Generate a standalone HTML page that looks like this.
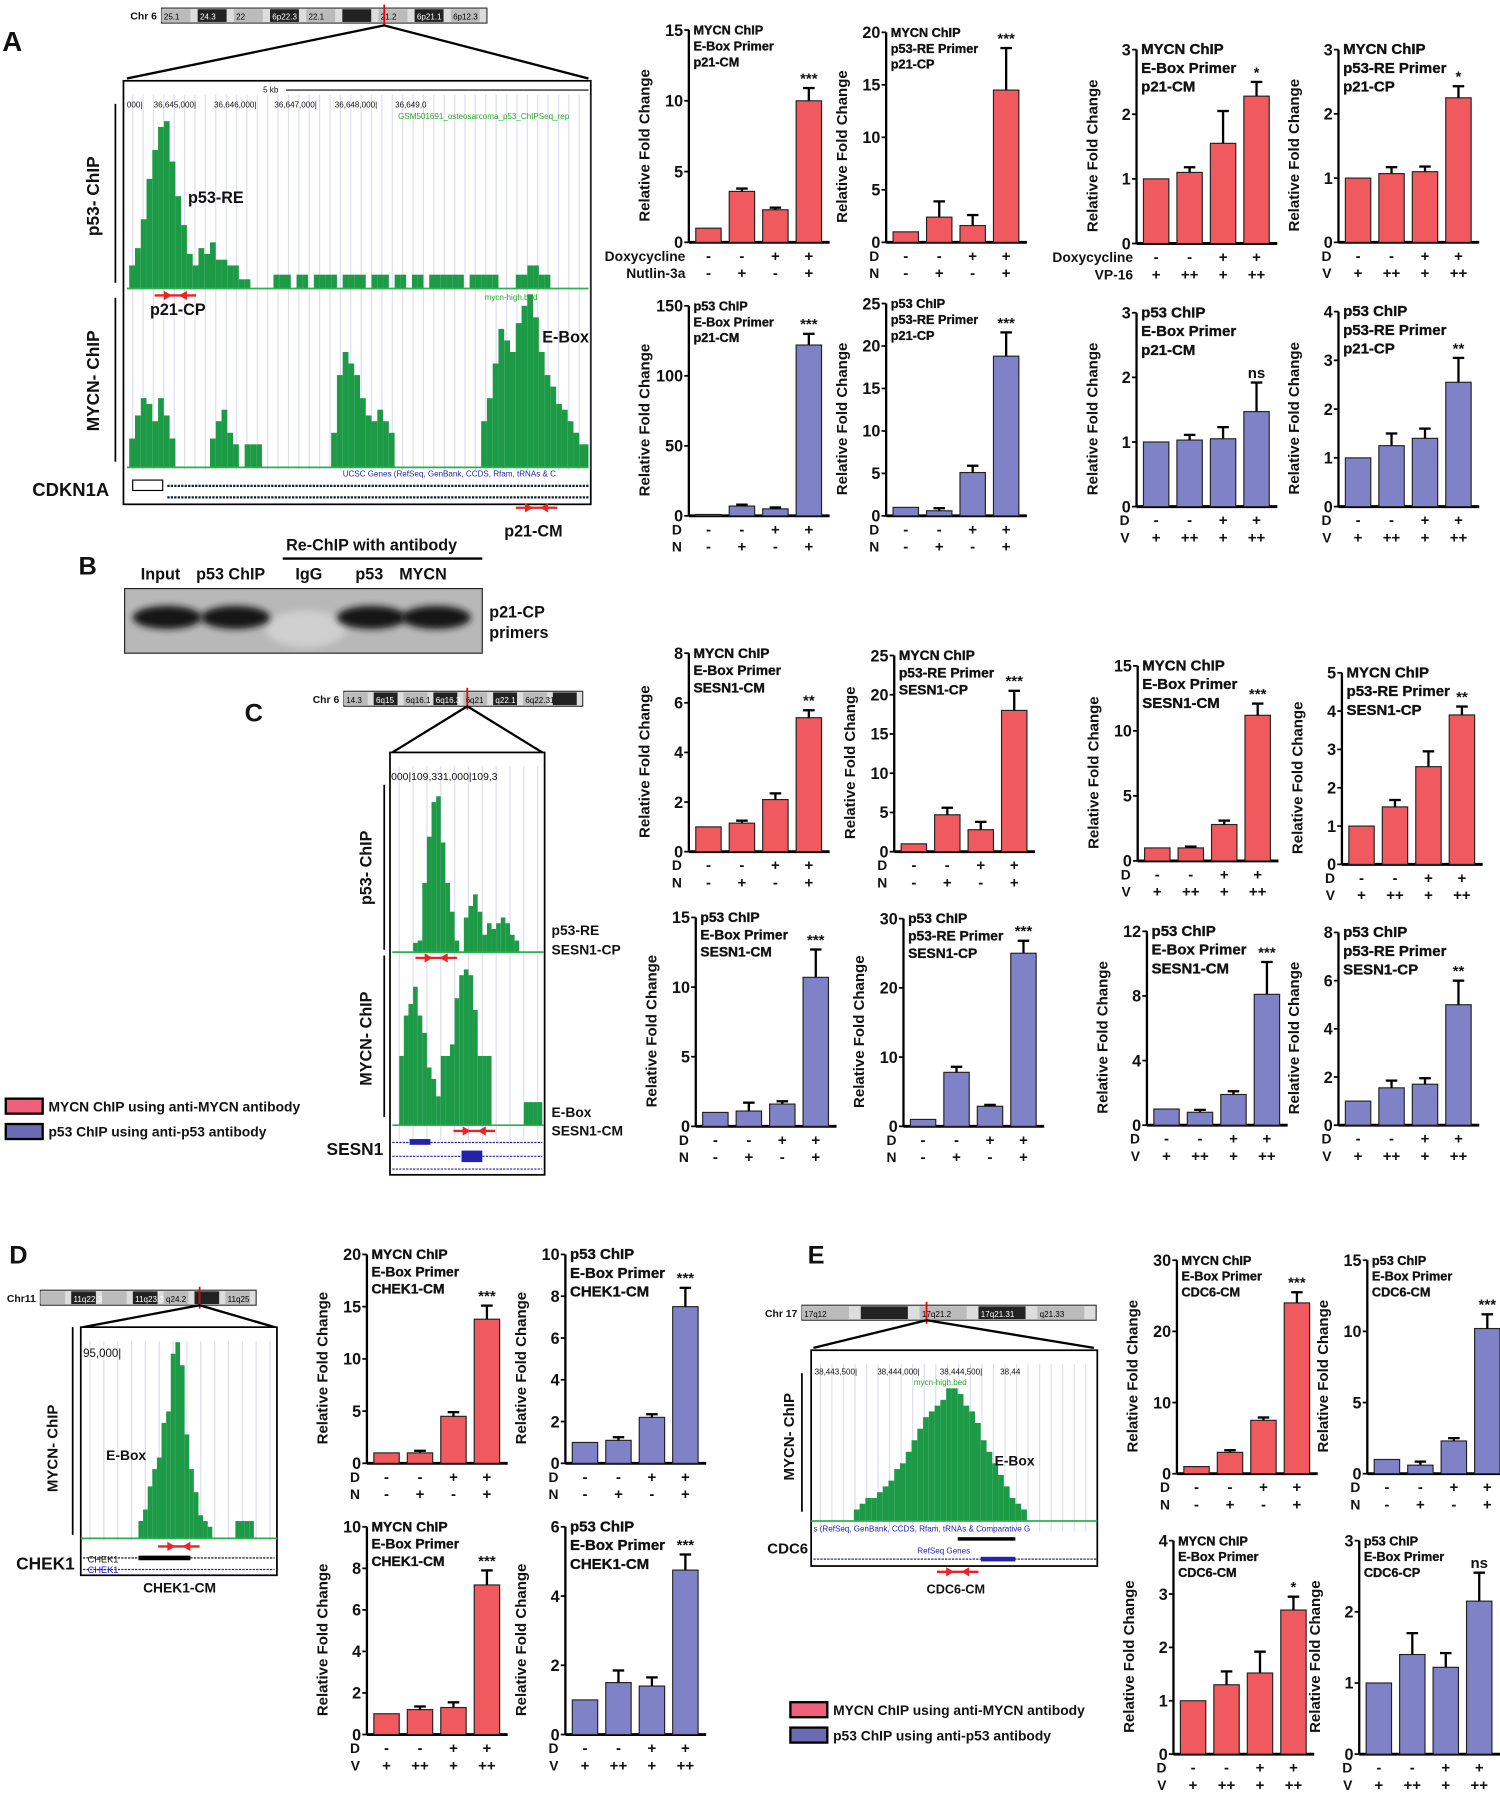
<!DOCTYPE html>
<html><head><meta charset="utf-8">
<style>
html,body{margin:0;padding:0;background:#fff;}
svg{display:block;font-family:"Liberation Sans",Arial,sans-serif;}
text{font-weight:bold;fill:#111;}
</style></head>
<body>
<svg id="fig" width="1500" height="1813" viewBox="0 0 1300 1571" preserveAspectRatio="none" xmlns="http://www.w3.org/2000/svg">
<defs><filter id="blur" x="-20%" y="-50%" width="140%" height="200%"><feGaussianBlur stdDeviation="3"/></filter></defs>
<g id="static">
  <text x="2" y="44" font-size="24">A</text>
  <text x="68" y="498" font-size="22">B</text>
  <text x="212" y="625" font-size="22">C</text>
  <text x="8" y="1095" font-size="22">D</text>
  <text x="700" y="1095" font-size="22">E</text>

  <g>
    <text x="122" y="502" font-size="14">Input</text>
    <text x="170" y="502" font-size="14">p53 ChIP</text>
    <text x="248" y="477" font-size="14">Re-ChIP with antibody</text>
    <line x1="245" y1="484" x2="418" y2="484" stroke="#000" stroke-width="2"/>
    <text x="256" y="502" font-size="14">IgG</text>
    <text x="308" y="502" font-size="14">p53</text>
    <text x="346" y="502" font-size="14">MYCN</text>
    <rect x="108" y="510" width="310" height="56" fill="#b8b8b8" stroke="#222" stroke-width="1"/>
    <ellipse cx="265" cy="545" rx="35" ry="16" fill="#cfcfcf" filter="url(#blur)"/>
    <ellipse cx="145" cy="535" rx="30" ry="10" fill="#151515" filter="url(#blur)"/>
    <ellipse cx="204" cy="535" rx="30" ry="10" fill="#151515" filter="url(#blur)"/>
    <ellipse cx="322" cy="535" rx="30" ry="10" fill="#151515" filter="url(#blur)"/>
    <ellipse cx="378" cy="535" rx="30" ry="10" fill="#151515" filter="url(#blur)"/>
    <text x="424" y="535" font-size="14">p21-CP</text>
    <text x="424" y="553" font-size="14">primers</text>
  </g>

  <g>
    <rect x="5" y="952" width="32" height="13" fill="#f0607a" stroke="#000" stroke-width="2"/>
    <text x="42" y="963" font-size="12">MYCN ChIP using anti-MYCN antibody</text>
    <rect x="5" y="974" width="32" height="13" fill="#6b6bb5" stroke="#000" stroke-width="2"/>
    <text x="42" y="985" font-size="12">p53 ChIP using anti-p53 antibody</text>
  </g>
  <g>
    <rect x="685" y="1475" width="32" height="13" fill="#f0607a" stroke="#000" stroke-width="2"/>
    <text x="722" y="1486" font-size="12">MYCN ChIP using anti-MYCN antibody</text>
    <rect x="685" y="1497" width="32" height="13" fill="#6b6bb5" stroke="#000" stroke-width="2"/>
    <text x="722" y="1508" font-size="12">p53 ChIP using anti-p53 antibody</text>
  </g>
</g>
<g id="browsers"></g>
<g id="charts"></g>
</svg>
<script>
const conditionCategories = ["1","2","3","4"];
const a1Values=[1,3.6,2.3,10], a1Errors=[0,0.2,0.15,0.9];
const a2Values=[1,2.4,1.6,14.5], a2Errors=[0,1.5,1,4];
const a3Values=[1,1.1,1.55,2.28], a3Errors=[0,0.08,0.5,0.22];
const a4Values=[1,1.07,1.1,2.25], a4Errors=[0,0.1,0.08,0.18];
const a5Values=[1,7,5,122], a5Errors=[0,1,1,8];
const a6Values=[1,0.6,5.1,18.8], a6Errors=[0,0.3,0.8,2.8];
const a7Values=[1,1.03,1.05,1.47], a7Errors=[0,0.08,0.18,0.45];
const a8Values=[1,1.25,1.4,2.55], a8Errors=[0,0.25,0.2,0.5];
const c1Values=[1,1.15,2.1,5.4], c1Errors=[0,0.1,0.25,0.3];
const c2Values=[1,4.7,2.8,18], c2Errors=[0,0.9,1,2.5];
const c3Values=[1,1,2.8,11.2], c3Errors=[0,0.1,0.3,0.9];
const c4Values=[1,1.5,2.55,3.9], c4Errors=[0,0.18,0.4,0.22];
const c5Values=[1,1.1,1.6,10.7], c5Errors=[0,0.6,0.2,2];
const c6Values=[1,7.8,2.9,25], c6Errors=[0,0.8,0.2,1.8];
const c7Values=[1,0.8,1.9,8.1], c7Errors=[0,0.15,0.2,2];
const c8Values=[1,1.55,1.7,5], c8Errors=[0,0.3,0.25,1];
const d1Values=[1,1,4.5,13.8], d1Errors=[0,0.2,0.4,1.3];
const d2Values=[1,1.1,2.2,7.5], d2Errors=[0,0.15,0.15,0.9];
const d3Values=[1,1.2,1.3,7.2], d3Errors=[0,0.15,0.25,0.7];
const d4Values=[1,1.5,1.4,4.75], d4Errors=[0,0.35,0.25,0.45];
const e1Values=[1,3,7.5,24], e1Errors=[0,0.3,0.4,1.5];
const e2Values=[1,0.6,2.3,10.2], e2Errors=[0,0.25,0.2,1];
const e3Values=[1,1.3,1.52,2.7], e3Errors=[0,0.25,0.4,0.25];
const e4Values=[1,1.4,1.22,2.15], e4Errors=[0,0.3,0.2,0.4];
const ticks15=["0","5","10","15"], ticks20=["0","5","10","15","20"], ticks25=["0","5","10","15","20","25"];
const ticks3=["0","1","2","3"], ticks4=["0","1","2","3","4"], ticks5=["0","1","2","3","4","5"];
const ticks150=["0","50","100","150"], ticks8=["0","2","4","6","8"], ticks30=["0","10","20","30"];
const ticks12=["0","4","8","12"], ticks10=["0","2","4","6","8","10"], ticks6=["0","2","4","6"];
const signsDN1=["-","-","+","+"], signsDN2=["-","+","-","+"], signsV=["+","++","+","++"];
const starLabels=["***","***","*","*","***","***","ns","**","**","***","***","**","***","***","***","**","***","***","***","***","***","***","*","ns"];

const RED="#f05a5e", BLUE="#7f82c6";
const NS="http://www.w3.org/2000/svg";
function el(tag,attrs,parent,txt){const e=document.createElementNS(NS,tag);for(const k in attrs)e.setAttribute(k,attrs[k]);if(txt!==undefined)e.textContent=txt;parent.appendChild(e);return e;}

const chartsG=document.getElementById('charts');
function drawChart(o){
  const g=el('g',{},chartsG);
  
  
  const maxV=parseFloat(o.ticks[o.ticks.length-1]);
  const y=v=>o.zero-(v/maxV)*(o.zero-o.top);
  const xc=i=>o.ax+17+i*29;
  const ya=el('line',{x1:o.ax,y1:o.top,x2:o.ax,y2:o.zero,stroke:'#000','stroke-width':2},g);
  
  
  const xa=el('line',{x1:o.ax,y1:o.zero,x2:o.ax+122,y2:o.zero,stroke:'#000','stroke-width':2.5},g);
  
  
  o.ticks.forEach(t=>{
    const ty=y(parseFloat(t));
    el('line',{x1:o.ax-4,y1:ty,x2:o.ax,y2:ty,stroke:'#000','stroke-width':1.5},g);
    const tl=el('text',{x:o.ax-5,y:ty+5,'font-size':14,'text-anchor':'end'},g,t);
    
    
  });
  const yt=el('text',{x:0,y:0,'font-size':13,'text-anchor':'middle',transform:`translate(${o.ax-34},${(o.top+o.zero)/2+8}) rotate(-90)`},g,'Relative Fold Change');
  
  
  o.vals.forEach((v,i)=>{
    const b=el('rect',{x:xc(i)-11,y:y(v),width:22,height:o.zero-y(v),fill:o.color,stroke:'#222','stroke-width':1},g);
    
    
    const e=o.errs[i];
    if(e>0){
      el('line',{x1:xc(i),y1:y(v),x2:xc(i),y2:y(v+e),stroke:'#000','stroke-width':2},g);
      el('line',{x1:xc(i)-5,y1:y(v+e),x2:xc(i)+5,y2:y(v+e),stroke:'#000','stroke-width':2},g);
    }
  });
  const i3=3;
  const st=el('text',{x:xc(i3),y:y(o.vals[i3]+o.errs[i3])-4,'font-size':13,'text-anchor':'middle'},g,o.star);
  
  
  o.title.forEach((t,k)=>{
    const tt=el('text',{x:o.ax+4,y:o.top+4+k*o.ts*1.25,'font-size':o.ts,stroke:'#111','stroke-width':0.3},g,t);
    
    
  });
  o.rows.forEach((r,k)=>{
    const ry=o.zero+16+k*15;
    const rl=el('text',{x:o.ax-(r.label.length>2?3:6),y:ry,'font-size':12,'text-anchor':'end'},g,r.label);
    
    
    r.signs.forEach((s,i)=>{el('text',{x:xc(i),y:ry,'font-size':13,'text-anchor':'middle'},g,s);});
  });
}
function rowsDN(long){return [{label:long?'Doxycycline':'D',signs:signsDN1},{label:long?'Nutlin-3a':'N',signs:signsDN2}];}
function rowsDV(long){return [{label:long?'Doxycycline':'D',signs:signsDN1},{label:long?'VP-16':'V',signs:signsV}];}

const specs=[
 {name:'chart-a-mycn-ebox-p21cm',ax:597,top:26,zero:210,ticks:ticks15,vals:a1Values,errs:a1Errors,color:RED,title:['MYCN ChIP','E-Box Primer','p21-CM'],ts:11,rows:rowsDN(true)},
 {name:'chart-a-mycn-p53re-p21cp',ax:768,top:28,zero:210,ticks:ticks20,vals:a2Values,errs:a2Errors,color:RED,title:['MYCN ChIP','p53-RE Primer','p21-CP'],ts:11,rows:rowsDN(false)},
 {name:'chart-a-mycn-ebox-vp16',ax:985,top:43,zero:211,ticks:ticks3,vals:a3Values,errs:a3Errors,color:RED,title:['MYCN ChIP','E-Box Primer','p21-CM'],ts:13,rows:rowsDV(true)},
 {name:'chart-a-mycn-p53re-vp16',ax:1160,top:43,zero:210,ticks:ticks3,vals:a4Values,errs:a4Errors,color:RED,title:['MYCN ChIP','p53-RE Primer','p21-CP'],ts:13,rows:rowsDV(false)},
 {name:'chart-a-p53-ebox-p21cm',ax:597,top:265,zero:447,ticks:ticks150,vals:a5Values,errs:a5Errors,color:BLUE,title:['p53 ChIP','E-Box Primer','p21-CM'],ts:11,rows:rowsDN(false)},
 {name:'chart-a-p53-p53re-p21cp',ax:768,top:263,zero:447,ticks:ticks25,vals:a6Values,errs:a6Errors,color:BLUE,title:['p53 ChIP','p53-RE Primer','p21-CP'],ts:11,rows:rowsDN(false)},
 {name:'chart-a-p53-ebox-vp16',ax:985,top:271,zero:439,ticks:ticks3,vals:a7Values,errs:a7Errors,color:BLUE,title:['p53 ChIP','E-Box Primer','p21-CM'],ts:13,rows:rowsDV(false)},
 {name:'chart-a-p53-p53re-vp16',ax:1160,top:270,zero:439,ticks:ticks4,vals:a8Values,errs:a8Errors,color:BLUE,title:['p53 ChIP','p53-RE Primer','p21-CP'],ts:13,rows:rowsDV(false)},
 {name:'chart-c-mycn-ebox-sesn1cm',ax:597,top:566,zero:738,ticks:ticks8,vals:c1Values,errs:c1Errors,color:RED,title:['MYCN ChIP','E-Box Primer','SESN1-CM'],ts:12,rows:rowsDN(false)},
 {name:'chart-c-mycn-p53re-sesn1cp',ax:775,top:568,zero:738,ticks:ticks25,vals:c2Values,errs:c2Errors,color:RED,title:['MYCN ChIP','p53-RE Primer','SESN1-CP'],ts:12,rows:rowsDN(false)},
 {name:'chart-c-mycn-ebox-vp16',ax:986,top:577,zero:746,ticks:ticks15,vals:c3Values,errs:c3Errors,color:RED,title:['MYCN ChIP','E-Box Primer','SESN1-CM'],ts:13,rows:rowsDV(false)},
 {name:'chart-c-mycn-p53re-vp16',ax:1163,top:583,zero:749,ticks:ticks5,vals:c4Values,errs:c4Errors,color:RED,title:['MYCN ChIP','p53-RE Primer','SESN1-CP'],ts:13,rows:rowsDV(false)},
 {name:'chart-c-p53-ebox-sesn1cm',ax:603,top:795,zero:976,ticks:ticks15,vals:c5Values,errs:c5Errors,color:BLUE,title:['p53 ChIP','E-Box Primer','SESN1-CM'],ts:12,rows:rowsDN(false)},
 {name:'chart-c-p53-p53re-sesn1cp',ax:783,top:796,zero:976,ticks:ticks30,vals:c6Values,errs:c6Errors,color:BLUE,title:['p53 ChIP','p53-RE Primer','SESN1-CP'],ts:12,rows:rowsDN(false)},
 {name:'chart-c-p53-ebox-vp16',ax:994,top:807,zero:975,ticks:ticks12,vals:c7Values,errs:c7Errors,color:BLUE,title:['p53 ChIP','E-Box Primer','SESN1-CM'],ts:13,rows:rowsDV(false)},
 {name:'chart-c-p53-p53re-vp16',ax:1160,top:808,zero:975,ticks:ticks8,vals:c8Values,errs:c8Errors,color:BLUE,title:['p53 ChIP','p53-RE Primer','SESN1-CP'],ts:13,rows:rowsDV(false)},
 {name:'chart-d-mycn-ebox-chek1cm',ax:318,top:1087,zero:1268,ticks:ticks20,vals:d1Values,errs:d1Errors,color:RED,title:['MYCN ChIP','E-Box Primer','CHEK1-CM'],ts:12,rows:rowsDN(false)},
 {name:'chart-d-p53-ebox-chek1cm',ax:490,top:1087,zero:1268,ticks:ticks10,vals:d2Values,errs:d2Errors,color:BLUE,title:['p53 ChIP','E-Box Primer','CHEK1-CM'],ts:13,rows:rowsDN(false)},
 {name:'chart-d-mycn-vp16',ax:318,top:1323,zero:1503,ticks:ticks10,vals:d3Values,errs:d3Errors,color:RED,title:['MYCN ChIP','E-Box Primer','CHEK1-CM'],ts:12,rows:rowsDV(false)},
 {name:'chart-d-p53-vp16',ax:490,top:1323,zero:1503,ticks:ticks6,vals:d4Values,errs:d4Errors,color:BLUE,title:['p53 ChIP','E-Box Primer','CHEK1-CM'],ts:13,rows:rowsDV(false)},
 {name:'chart-e-mycn-ebox-cdc6cm',ax:1020,top:1092,zero:1277,ticks:ticks30,vals:e1Values,errs:e1Errors,color:RED,title:['MYCN ChIP','E-Box Primer','CDC6-CM'],ts:11,rows:rowsDN(false)},
 {name:'chart-e-p53-ebox-cdc6cm',ax:1185,top:1092,zero:1277,ticks:ticks15,vals:e2Values,errs:e2Errors,color:BLUE,title:['p53 ChIP','E-Box Primer','CDC6-CM'],ts:11,rows:rowsDN(false)},
 {name:'chart-e-mycn-vp16',ax:1017,top:1335,zero:1520,ticks:ticks4,vals:e3Values,errs:e3Errors,color:RED,title:['MYCN ChIP','E-Box Primer','CDC6-CM'],ts:11,rows:rowsDV(false)},
 {name:'chart-e-p53-vp16',ax:1178,top:1335,zero:1520,ticks:ticks3,vals:e4Values,errs:e4Errors,color:BLUE,title:['p53 ChIP','E-Box Primer','CDC6-CP'],ts:11,rows:rowsDV(false)}
];
specs.forEach((s,i)=>{s.star=starLabels[i];drawChart(s);});

const trackAp53=[20,35,60,95,120,140,145,110,80,55,30,20,35,30,40,25,25,20,20,8,8,0,0,0,0,12,12,12,0,12,12,0,12,12,12,12,0,12,12,12,12,0,12,12,12,0,12,12,0,12,12,0,12,12,12,12,12,12,0,12,12,12,12,12,0,0,0,12,12,20,20,12,12,0,0,0,0,0,0,0];
const trackAmycn=[25,45,60,55,40,60,45,25,0,0,0,0,0,0,25,40,50,30,20,0,20,20,20,0,0,0,0,0,0,0,0,0,0,0,0,30,80,100,90,80,60,45,40,50,40,30,0,0,0,0,0,0,0,0,0,0,0,0,0,0,0,40,60,90,120,110,100,125,140,150,130,100,80,70,55,50,40,30,20,20];
const trackCp53=[0,0,0,0,8,10,60,100,130,135,95,60,35,10,0,30,40,50,35,15,25,20,25,30,25,15,10,0,0,0,0,0];
const trackCmycn=[0,60,95,105,120,95,80,50,40,25,60,60,70,110,130,135,130,100,60,60,60,0,0,0,0,0,0,0,20,20,20,20];
const trackDmycn=[0,0,0,0,0,0,0,0,0,0,0,0,15,25,45,60,70,100,110,160,170,150,90,60,40,20,15,10,0,0,0,0,0,15,15,15,15,0,0,0,0,0];
const trackEmycn=[0,0,0,0,0,0,0,10,15,20,20,25,30,35,45,50,60,70,80,90,95,100,105,115,115,110,100,95,85,70,60,50,40,30,20,15,10,0,0,0,0,0,0,0,0,0,0,0,0];

const bg=document.getElementById('browsers');
function drawTrack(name,x0,base,bw,heights,xmax){
  const g=el('g',{},bg);
  
  
  heights.forEach((h,i)=>{
    const x=x0+i*bw; if(x>=xmax||h<=0)return;
    el('rect',{x:x,y:base-h,width:Math.min(bw,xmax-x),height:h,fill:'#1d9a46'},g);
  });
  el('line',{x1:x0-2,y1:base,x2:xmax,y2:base,stroke:'#2bb04f','stroke-width':1.5},g);
}
function ideogram(name,x,yy,w,redX,labels,chr){
  const g=el('g',{},bg);
  
  
  el('text',{x:x-4,y:yy+10,'font-size':9,'text-anchor':'end'},g,chr);
  el('rect',{x:x,y:yy,width:w,height:13,fill:'#ddd',stroke:'#333'},g);
  const n=labels.length, sw=w/n;
  labels.forEach((l,i)=>{
    el('rect',{x:x+i*sw,y:yy+1,width:sw*0.8,height:11,fill:i%2?'#222':'#bbb'},g);
    el('text',{x:x+i*sw+2,y:yy+10,'font-size':7,style:'font-weight:normal;fill:'+(i%2?'#fff':'#000')},g,l);
  });
  el('line',{x1:redX,y1:yy-3,x2:redX,y2:yy+16,stroke:'#e00','stroke-width':1.5},g);
}
function box(name,x,y,w,h,lines){
  const g=el('g',{},bg);
  
  
  el('rect',{x:x,y:y,width:w,height:h,fill:'#fff',stroke:'#000','stroke-width':1.5},g);
  for(let lx=x+8;lx<x+w;lx+=lines)el('line',{x1:lx,y1:y+12,x2:lx,y2:y+h-30,stroke:'#dcdcf0','stroke-width':1},g);
  return g;
}
function primerArrow(x,y){
  const g=el('g',{},bg);
  el('line',{x1:x-18,y1:y,x2:x+18,y2:y,stroke:'#e22','stroke-width':2},g);
  el('polygon',{points:`${x-3},${y} ${x-10},${y-4} ${x-10},${y+4}`,fill:'#e22'},g);
  el('polygon',{points:`${x+3},${y} ${x+10},${y-4} ${x+10},${y+4}`,fill:'#e22'},g);
}
function vlabel(txt,x,y,size){el('text',{x:0,y:0,'font-size':size,'text-anchor':'middle',transform:`translate(${x},${y}) rotate(-90)`},bg,txt);}
function t(txt,x,y,size,extra){const e=el('text',Object.assign({x:x,y:y,'font-size':size},extra||{}),bg,txt);return e;}

ideogram('ideogram-chr6-a',140,7,282,333,['25.1','24.3','22','6p22.3','22.1','','21.2','6p21.1','6p12.3'],'Chr 6');
el('polyline',{points:'110,68 333,22 510,68',fill:'none',stroke:'#000','stroke-width':2},bg);
box('browser-a',107,70,405,367,9);
t('5 kb',228,80,7,{style:'font-weight:normal'});
el('line',{x1:248,y1:78,x2:510,y2:78,stroke:'#000'},bg);
t('000|     36,645,000|        36,646,000|        36,647,000|        36,648,000|        36,649,0',110,93,7,{style:'font-weight:normal;white-space:pre'});
t('GSM501691_osteosarcoma_p53_ChIPSeq_rep',345,103,7,{style:'font-weight:normal;fill:#2a2'});
drawTrack('track-a-p53',112,250,5,trackAp53,510);
drawTrack('track-a-mycn',112,405,5,trackAmycn,510);
t('mycn-high.bed',420,260,7,{style:'font-weight:normal;fill:#2a2'});
t('p53-RE',163,176,14);t('E-Box',470,297,14);t('p21-CP',130,273,14);
primerArrow(152,256);primerArrow(465,440);t('p21-CM',437,465,14);
vlabel('p53- ChIP',86,170,15);vlabel('MYCN- ChIP',86,330,15);
el('line',{x1:100,y1:90,x2:100,y2:245,stroke:'#000','stroke-width':1.5},bg);
el('line',{x1:100,y1:258,x2:100,y2:400,stroke:'#000','stroke-width':1.5},bg);
t('UCSC Genes (RefSeq, GenBank, CCDS, Rfam, tRNAs & C',297,413,7,{style:'font-weight:normal;fill:#22a'});
el('line',{x1:145,y1:421,x2:510,y2:421,stroke:'#123',"stroke-width":2,'stroke-dasharray':'2 1'},bg);
el('line',{x1:145,y1:431,x2:510,y2:431,stroke:'#123',"stroke-width":2,'stroke-dasharray':'2 1'},bg);
el('rect',{x:115,y:416,width:26,height:9,fill:'#fff',stroke:'#000'},bg);
t('CDKN1A',28,430,16);

ideogram('ideogram-chr6-c',298,599,207,405,['14.3','6q15','6q16.1','6q16.3','6q21','q22.1','6q22.31',''],'Chr 6');
el('polyline',{points:'340,652 405,612 470,652',fill:'none',stroke:'#000','stroke-width':2},bg);
box('browser-c',338,652,134,366,12);
t('000|109,331,000|109,3',339,676,9,{style:'font-weight:normal'});
drawTrack('track-c-p53',342,825,4,trackCp53,471);
drawTrack('track-c-mycn',342,975,4,trackCmycn,471);
primerArrow(378,830);primerArrow(411,980);
vlabel('p53- ChIP',322,752,14);vlabel('MYCN- ChIP',322,900,14);
el('line',{x1:333,y1:680,x2:333,y2:823,stroke:'#000','stroke-width':1.5},bg);
el('line',{x1:333,y1:828,x2:333,y2:968,stroke:'#000','stroke-width':1.5},bg);
t('p53-RE',478,810,12);t('SESN1-CP',478,827,12);t('E-Box',478,968,12);t('SESN1-CM',478,984,12);
el('line',{x1:340,y1:990,x2:470,y2:990,stroke:'#22a','stroke-dasharray':'2 1'},bg);
el('line',{x1:340,y1:1002,x2:470,y2:1002,stroke:'#22a','stroke-dasharray':'2 1'},bg);
el('line',{x1:340,y1:1013,x2:470,y2:1013,stroke:'#22a','stroke-dasharray':'2 1'},bg);
el('rect',{x:355,y:987,width:18,height:5,fill:'#22a'},bg);
el('rect',{x:400,y:997,width:18,height:10,fill:'#22a'},bg);
t('SESN1',283,1001,15);

ideogram('ideogram-chr11-d',35,1118,187,173,['','11q22.3','','11q23.3','q24.2','','11q25'],'Chr11');
el('polyline',{points:'72,1150 173,1131 238,1150',fill:'none',stroke:'#000','stroke-width':2},bg);
box('browser-d',70,1150,170,215,12);
t('95,000|',72,1176,10,{style:'font-weight:normal'});
drawTrack('track-d-mycn',72,1333,4,trackDmycn,240);
primerArrow(155,1340);
t('E-Box',92,1265,12);
vlabel('MYCN- ChIP',50,1255,13);
el('line',{x1:63,y1:1150,x2:63,y2:1330,stroke:'#000','stroke-width':1.5},bg);
el('rect',{x:120,y:1348,width:45,height:4,fill:'#000'},bg);
el('line',{x1:72,y1:1350,x2:238,y2:1350,stroke:'#000','stroke-dasharray':'2 1'},bg);
el('line',{x1:72,y1:1360,x2:238,y2:1360,stroke:'#22a','stroke-dasharray':'2 1'},bg);
t('CHEK1',76,1354,8,{style:'font-weight:normal'});t('CHEK1',76,1363,8,{style:'font-weight:normal;fill:#22a'});
t('CHEK1',14,1360,15);t('CHEK1-CM',124,1380,12);

ideogram('ideogram-chr17-e',695,1131,255,803,['17q12','','17q21.2','17q21.31','q21.33'],'Chr 17');
el('polyline',{points:'705,1168 803,1144 948,1168',fill:'none',stroke:'#000','stroke-width':2},bg);
box('browser-e',703,1170,248,187,10);
t('38,443,500|         38,444,000|         38,444,500|        38,44',706,1191,7,{style:'font-weight:normal;white-space:pre'});
t('mycn-high.bed',792,1200,7,{style:'font-weight:normal;fill:#2a2'});
drawTrack('track-e-mycn',705,1318,5,trackEmycn,951);
t('E-Box',862,1270,12);
vlabel('MYCN- ChIP',688,1245,13);
el('line',{x1:695,y1:1190,x2:695,y2:1310,stroke:'#000','stroke-width':1.5},bg);
t('s (RefSeq, GenBank, CCDS, Rfam, tRNAs & Comparative G',705,1327,7,{style:'font-weight:normal;fill:#22a'});
el('rect',{x:830,y:1332,width:50,height:3,fill:'#000'},bg);
t('RefSeq Genes',795,1346,7,{style:'font-weight:normal;fill:#22a'});
el('rect',{x:850,y:1349,width:30,height:4,fill:'#22a'},bg);
el('line',{x1:705,y1:1351,x2:950,y2:1351,stroke:'#22a','stroke-dasharray':'2 1'},bg);
t('CDC6',665,1346,13);
primerArrow(830,1362);t('CDC6-CM',803,1381,11);
</script>
</body></html>
